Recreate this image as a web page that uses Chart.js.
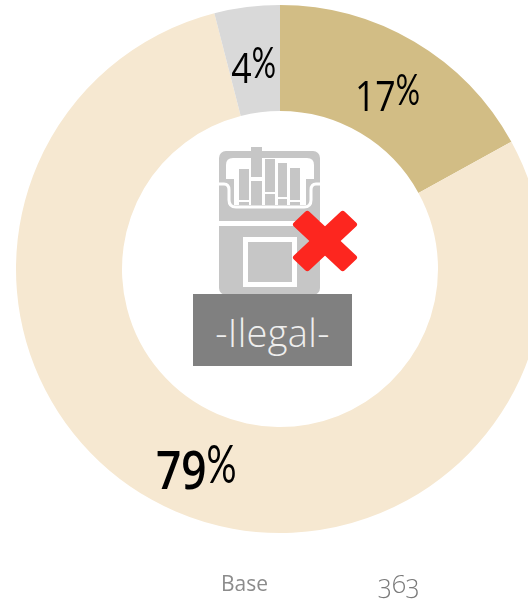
<!DOCTYPE html>
<html>
<head>
<meta charset="utf-8">
<script src="https://cdn.jsdelivr.net/npm/chart.js@4"></script>
<style>
html, body { margin: 0; padding: 0; width: 528px; height: 600px; overflow: hidden; background: #fff; }
#wrap { position: relative; width: 528px; height: 600px; overflow: hidden; font-family: "Open Sans", sans-serif; }
#myChart { position: absolute; left: 0; top: 0; }
#icon { position: absolute; left: 0; top: 0; }
#tag { position: absolute; left: 193px; top: 294px; width: 159px; height: 72px; background: #808080; color: #eeeeee;
  font-size: 38px; font-weight: 300; line-height: 76px; text-align: center; letter-spacing: 0.3px; }
.foot { position: absolute; top: 570px; color: #8c8c8c; font-size: 21px; line-height: 26px; }
#num { font-size: 26px; font-feature-settings: "onum"; font-weight: 300; color: #7a7a7a; }
</style>
</head>
<body>
<div id="wrap">
  <canvas id="myChart" width="560" height="538"></canvas>
  <svg id="icon" width="528" height="600" xmlns="http://www.w3.org/2000/svg">
    <defs><filter id="suave"><feGaussianBlur stdDeviation="0.6"/></filter></defs>
    <!-- cajetilla -->
    <g filter="url(#suave)">
      <rect x="219" y="151" width="101" height="144" rx="7" fill="#c6c6c6"/>
      <path d="M226 179 V165 Q226 158 233 158 H307 Q314 158 314 165 V179 H306 V205 H234 V179 Z" fill="#fff"/>
      <path d="M219 184 H224 Q229 184 229 190 V200 Q229 207 236 207 H304 Q311 207 311 200 V190 Q311 184 316 184 H320" fill="none" stroke="#fff" stroke-width="3"/>
      <rect x="219" y="221" width="101" height="5" fill="#fff"/>
      <g fill="#c6c6c6">
        <rect x="239" y="169" width="10" height="31"/>
        <rect x="239" y="202" width="10" height="3"/>
        <rect x="251" y="147" width="11" height="30"/>
        <rect x="251" y="181" width="11" height="24"/>
        <rect x="265" y="159" width="10" height="33"/>
        <rect x="265" y="194" width="10" height="11"/>
        <rect x="278" y="163" width="9" height="34"/>
        <rect x="278" y="199" width="9" height="6"/>
        <rect x="290" y="168" width="10" height="32"/>
        <rect x="290" y="202" width="10" height="3"/>
      </g>
      <rect x="245.500" y="239.500" width="49" height="45" fill="none" stroke="#fff" stroke-width="5"/>
    </g>
    <!-- aspa -->
    <g transform="translate(325 241) scale(1 0.94) rotate(45)" fill="#fd261f">
      <rect x="-36" y="-11" width="72" height="22" rx="3"/>
      <rect x="-11" y="-36" width="22" height="72" rx="3"/>
    </g>
  </svg>
  <div id="tag">-Ilegal-</div>
  <div class="foot" style="left:221px">Base</div>
  <div class="foot" id="num" style="left:378px">363</div>
</div>
<script>
// Datos de la grafica
const segmentos = ['Categoria 1', 'Ilegal', 'Categoria 3'];
const porcentajes = [17, 79, 4];
const colores = ['#D2BD85', '#F6E8D1', '#D9D9D9'];
const tamanos = [42, 52, 42];
const pesos = [400, 600, 400];

// Porcentajes sobre cada sector, con el signo % estrecho y subido
const etiquetas = {
    id: 'etiquetas',
    afterDatasetsDraw(chart) {
        const ctx = chart.ctx;
        chart.getDatasetMeta(0).data.forEach((arc, i) => {
            const p = arc.getCenterPoint();
            const t = tamanos[i];
            const num = String(porcentajes[i]);
            const fontNum = pesos[i] + ' ' + t + 'px "Open Sans"';
            const fontPct = '400 ' + t + 'px Lato';
            ctx.save();
            ctx.fillStyle = '#000';
            ctx.textBaseline = 'alphabetic';
            ctx.font = fontNum;
            const anchoNum = ctx.measureText(num).width * 0.85;
            ctx.font = fontPct;
            const anchoPct = ctx.measureText('%').width * 0.72;
            const x0 = p.x - (anchoNum + anchoPct) / 2;
            const base = p.y + 8 + t * 0.36;

            ctx.save();
            ctx.translate(x0, base);
            ctx.scale(0.85, 1);
            ctx.font = fontNum;
            ctx.fillText(num, 0, 0);
            ctx.restore();

            ctx.translate(x0 + anchoNum, base - t * 0.12);
            ctx.scale(0.72, 1);
            ctx.font = fontPct;
            ctx.fillText('%', 0, 0);
            ctx.restore();
        });
    }
};

const ctx = document.getElementById('myChart').getContext('2d');
const myChart = new Chart(ctx, {
    type: 'doughnut',
    data: {
        labels: segmentos,
        datasets: [{
            data: porcentajes,
            backgroundColor: colores,
            borderWidth: 0
        }]
    },
    options: {
        responsive: false,
        animation: false,
        radius: 264,
        cutout: '59.85%',
        layout: { padding: 0 },
        plugins: {
            legend: { display: false },
            tooltip: { enabled: false }
        }
    },
    plugins: [etiquetas]
});
</script>
</body>
</html>
